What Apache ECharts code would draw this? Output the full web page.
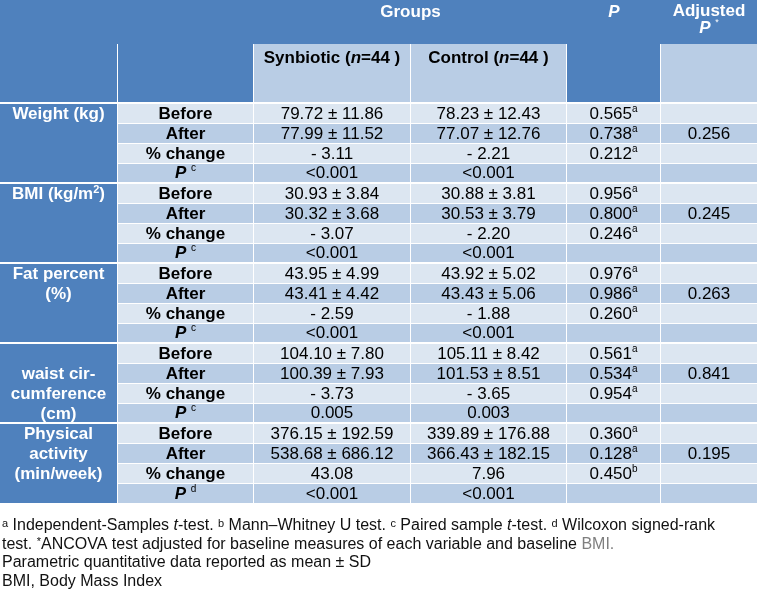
<!DOCTYPE html>
<html><head><meta charset="utf-8">
<script src="https://cdn.jsdelivr.net/npm/echarts@6/dist/echarts.min.js"></script>
<style>html,body{margin:0;padding:0;background:#fff}#c{width:757px;height:591px}</style>
</head><body><div id="c"></div>
<script>
const measures = ['Weight (kg)', 'BMI (kg/m²)', 'Fat percent\n(%)', '\nwaist cir-\ncumference\n(cm)', 'Physical\nactivity\n(min/week)'];
const stats = ['Before', 'After', '% change', 'P'];
const withinTest = ['c', 'c', 'c', 'c', 'd'];
const synbiotic = [
  '79.72 ± 11.86', '77.99 ± 11.52', '- 3.11', '<0.001',
  '30.93 ± 3.84', '30.32 ± 3.68', '- 3.07', '<0.001',
  '43.95 ± 4.99', '43.41 ± 4.42', '- 2.59', '<0.001',
  '104.10 ± 7.80', '100.39 ± 7.93', '- 3.73', '0.005',
  '376.15 ± 192.59', '538.68 ± 686.12', '43.08', '<0.001'
];
const control = [
  '78.23 ± 12.43', '77.07 ± 12.76', '- 2.21', '<0.001',
  '30.88 ± 3.81', '30.53 ± 3.79', '- 2.20', '<0.001',
  '43.92 ± 5.02', '43.43 ± 5.06', '- 1.88', '<0.001',
  '105.11 ± 8.42', '101.53 ± 8.51', '- 3.65', '0.003',
  '339.89 ± 176.88', '366.43 ± 182.15', '7.96', '<0.001'
];
const pValues = [
  '0.565', '0.738', '0.212', '',
  '0.956', '0.800', '0.246', '',
  '0.976', '0.986', '0.260', '',
  '0.561', '0.534', '0.954', '',
  '0.360', '0.128', '0.450', ''
];
const pTests = [
  'a', 'a', 'a', '',
  'a', 'a', 'a', '',
  'a', 'a', 'a', '',
  'a', 'a', 'a', '',
  'a', 'a', 'b', ''
];
const adjustedP = ['0.256', '0.245', '0.263', '0.841', '0.195'];
const headerGroups = 'Groups';
const headerSyn = 'Synbiotic ({i|n}=44 )';
const headerCtl = 'Control ({i|n}=44 )';
const headerP = 'P';
const headerAdj = '{h|Adjusted}\n{hi|P} {wsup|*}';
const footnotes = [
  '{sup|a} Independent-Samples {it|t}-test. {sup|b} Mann–Whitney U test. {sup|c} Paired sample {it|t}-test. {sup|d} Wilcoxon signed-rank',
  'test. {sup|*}ANCOVA test adjusted for baseline measures of each variable and baseline {gray|BMI.}',
  'Parametric quantitative data reported as mean ± SD',
  'BMI, Body Mass Index'
];

// ---------------- layout & style ----------------
const COL = [0, 118, 254, 411, 567, 661, 757];
const HEAD_SPLIT = 44, DATA_TOP = 104, ROW_H = 20, TABLE_BOTTOM = DATA_TOP + ROW_H * 20;
const DARK = '#4F81BD', L1 = '#DCE6F1', L2 = '#B9CDE5';
const FF = '"Liberation Sans", Arial, Helvetica, sans-serif';
const FS = 17;
const rich = {
  i: { fontFamily: FF, fontSize: FS, fontWeight: 'bold', fontStyle: 'italic' },
  h: { fontFamily: FF, fontSize: FS, fontWeight: 'bold', lineHeight: 14, fill: '#fff' },
  hi: { fontFamily: FF, fontSize: FS, fontWeight: 'bold', fontStyle: 'italic', lineHeight: 14, fill: '#fff' },
  sup: { fontFamily: FF, fontSize: 10, verticalAlign: 'top', lineHeight: 10 },
  wsup: { fontFamily: FF, fontSize: 9, verticalAlign: 'top', lineHeight: 9, fill: '#fff' },
  w2: { fontFamily: FF, fontSize: 11, fontWeight: 'bold', verticalAlign: 'top', lineHeight: 11, fill: '#fff' },
  pi: { fontFamily: FF, fontSize: FS, fontWeight: 'bold', fontStyle: 'italic' }
};

const cells = [];
function cell(x0, x1, y0, y1, fill, gapR, gapB, text, opt) {
  cells.push(Object.assign({ x0, x1, y0, y1, fill, gapR, gapB, text }, opt || {}));
}
// header
cell(COL[0], COL[6], 0, HEAD_SPLIT, DARK, 0, 0, '', {});
cell(COL[0], COL[1], HEAD_SPLIT, DATA_TOP, DARK, 1, 2, '', {});
cell(COL[1], COL[2], HEAD_SPLIT, DATA_TOP, DARK, 1, 2, '', {});
cell(COL[2], COL[3], HEAD_SPLIT, DATA_TOP, L2, 1, 2, headerSyn, { color: '#000', weight: 'bold', vTop: 14 });
cell(COL[3], COL[4], HEAD_SPLIT, DATA_TOP, L2, 1, 2, headerCtl, { color: '#000', weight: 'bold', vTop: 14 });
cell(COL[4], COL[5], HEAD_SPLIT, DATA_TOP, DARK, 1, 2, '', {});
cell(COL[5], COL[6], HEAD_SPLIT, DATA_TOP, L2, 0, 2, '', {});
// header texts placed in top row cells spanning columns (transparent)
cell(COL[2], COL[4], 0, HEAD_SPLIT, 'rgba(0,0,0,0)', 0, 0, headerGroups, { color: '#fff', weight: 'bold', vTop: 12.5 });
cell(COL[4], COL[5], 0, HEAD_SPLIT, 'rgba(0,0,0,0)', 0, 0, '{i|' + headerP + '}', { color: '#fff', weight: 'bold', vTop: 12.5 });
cell(COL[5], COL[6], 0, HEAD_SPLIT, 'rgba(0,0,0,0)', 0, 0, headerAdj, { color: '#fff', weight: 'bold', vTop: 21 });

// body
measures.forEach((m, mi) => {
  const g0 = DATA_TOP + mi * 4 * ROW_H;
  const lastGroup = mi === measures.length - 1;
  cell(COL[0], COL[1], g0, g0 + 4 * ROW_H, DARK, 1, lastGroup ? 1 : 2,
       m.replace('²', '{w2|2}'), { color: '#fff', weight: 'bold', vTop: 10, lh: 20 });
  stats.forEach((s, si) => {
    const k = mi * 4 + si;
    const y0 = g0 + si * ROW_H, y1 = y0 + ROW_H;
    const fill = si % 2 === 0 ? L1 : L2;
    const gb = (si === 3 && !lastGroup) ? 2 : 1;
    const lab = s === 'P' ? '{pi|P} {sup|' + withinTest[mi] + '}' : s;
    cell(COL[1], COL[2], y0, y1, fill, 1, gb, lab, { color: '#000', weight: 'bold' });
    cell(COL[2], COL[3], y0, y1, fill, 1, gb, synbiotic[k], { color: '#000' });
    cell(COL[3], COL[4], y0, y1, fill, 1, gb, control[k], { color: '#000' });
    cell(COL[4], COL[5], y0, y1, fill, 1, gb, pValues[k] ? pValues[k] + '{sup|' + pTests[k] + '}' : '', { color: '#000' });
    cell(COL[5], COL[6], y0, y1, fill, 0, gb, si === 1 ? adjustedP[mi] : '', { color: '#000' });
  });
});

function renderItem(params, api) {
  const c = cells[api.value(4)];
  const p0 = api.coord([api.value(0), api.value(2)]);
  const p1 = api.coord([api.value(1), api.value(3)]);
  const w = p1[0] - p0[0] - c.gapR, h = p1[1] - p0[1] - c.gapB;
  const children = [{ type: 'rect', shape: { x: p0[0], y: p0[1], width: w, height: h }, style: { fill: c.fill } }];
  if (c.text) {
    const top = c.vTop !== undefined;
    const t = {
      type: 'text',
      x: p0[0] + w / 2,
      y: top ? p0[1] + c.vTop : p0[1] + h / 2 + 0.5,
      style: {
        text: c.text,
        font: (c.weight === 'bold' ? 'bold ' : '') + FS + 'px ' + FF,
        fill: c.color,
        align: 'center',
        verticalAlign: 'middle',
        lineHeight: c.lh || 20,
        rich: rich
      }
    };
    if (top && c.lh) {
      t.style.verticalAlign = 'top';
      t.y = p0[1] + c.vTop - c.lh / 2;
    }
    children.push(t);
  }
  return { type: 'group', children };
}

const chart = echarts.init(document.getElementById('c'), null, { renderer: 'canvas' });
chart.setOption({
  animation: false,
  grid: { left: 0, right: 0, top: 0, height: TABLE_BOTTOM },
  xAxis: { type: 'value', min: 0, max: 757, show: false },
  yAxis: { type: 'value', min: 0, max: TABLE_BOTTOM, inverse: true, show: false },
  series: [{
    type: 'custom',
    clip: false,
    renderItem,
    data: cells.map((c, i) => [c.x0, c.x1, c.y0, c.y1, i])
  }],
  graphic: footnotes.map((t, i) => ({
    type: 'text',
    left: 2,
    top: [518, 536.5, 555, 573.5][i],
    style: {
      text: t,
      font: '16px ' + FF,
      fill: '#111',
      rich: {
        sup: { fontFamily: FF, fontSize: 11, verticalAlign: 'top', lineHeight: 10, fill: '#111' },
        it: { fontFamily: FF, fontSize: 16, fontStyle: 'italic', fill: '#111' },
        gray: { fontFamily: FF, fontSize: 16, fill: '#7f7f7f' }
      }
    }
  }))
});
</script></body></html>
